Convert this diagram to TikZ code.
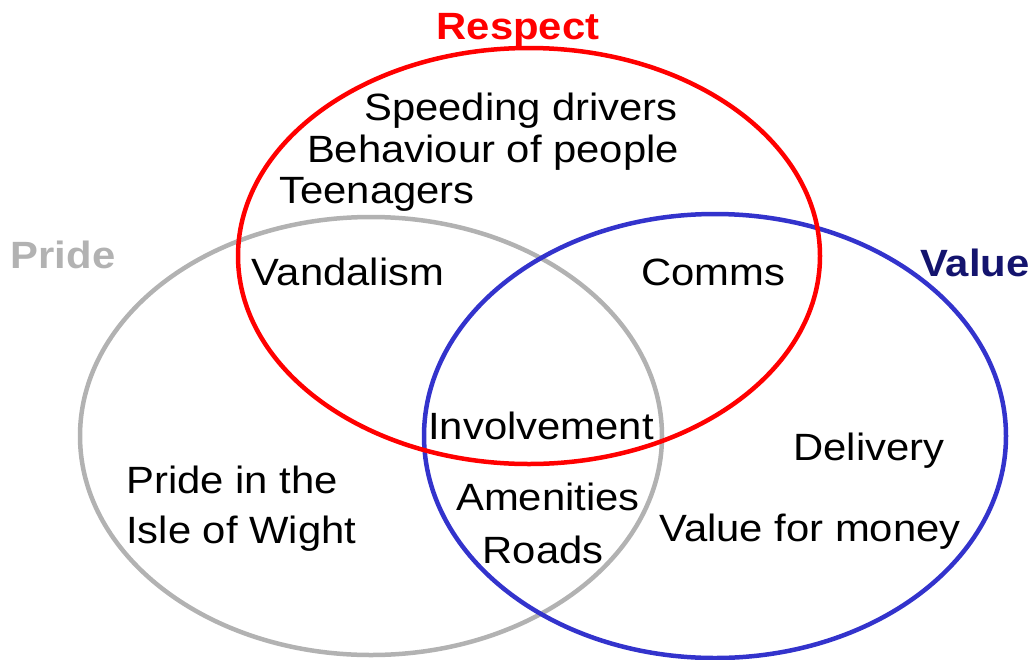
\documentclass[tikz,border=0pt]{standalone}
\usepackage{fontspec}
\setmainfont{Liberation Sans}
\newfontfamily\labfont{Liberation Sans}[FakeStretch=1.1]
\definecolor{prgray}{HTML}{B2B2B2}
\definecolor{vblue}{HTML}{3333CC}
\definecolor{vnavy}{HTML}{14146E}
\definecolor{rred}{HTML}{FF0000}
\begin{document}
\begin{tikzpicture}[x=1pt,y=-1pt,
  ring/.style={line width=4.5pt},
  txt/.style={font=\labfont\fontsize{38}{42}\selectfont, inner sep=0pt, anchor=base},
  ttl/.style={font=\labfont\bfseries\fontsize{38}{42}\selectfont, inner sep=0pt, anchor=base}]
\useasboundingbox (0,0) rectangle (1036,659);
\draw[ring, prgray] (371,436) ellipse [x radius=291, y radius=219];
\draw[ring, vblue] (715,436) ellipse [x radius=291, y radius=222];
\draw[ring, rred] (529,256) ellipse [x radius=291, y radius=208];
\node[ttl, rred] (respect) at (518,39) {Respect};
\node[ttl, prgray] (pride) at (63,268) {Pride};
\node[ttl, vnavy] (value) at (975,276) {Value};
\node[txt] (speed) at (521,120) {Speeding drivers};
\node[txt] (behav) at (493,162) {Behaviour of people};
\node[txt] (teen) at (377,203) {Teenagers};
\node[txt] (vand) at (348,285) {Vandalism};
\node[txt] (comms) at (713,285) {Comms};
\node[txt] (invol) at (541,439) {Involvement};
\node[txt] (deliv) at (869,460) {Delivery};
\node[txt, anchor=base west] (pride1) at (126,493) {Pride in the};
\node[txt, anchor=base west] (pride2) at (126,543) {Isle of Wight};
\node[txt] (amen) at (548,510) {Amenities};
\node[txt] (roads) at (543,563) {Roads};
\node[txt] (vfm) at (810,541) {Value for money};
\end{tikzpicture}
\end{document}
